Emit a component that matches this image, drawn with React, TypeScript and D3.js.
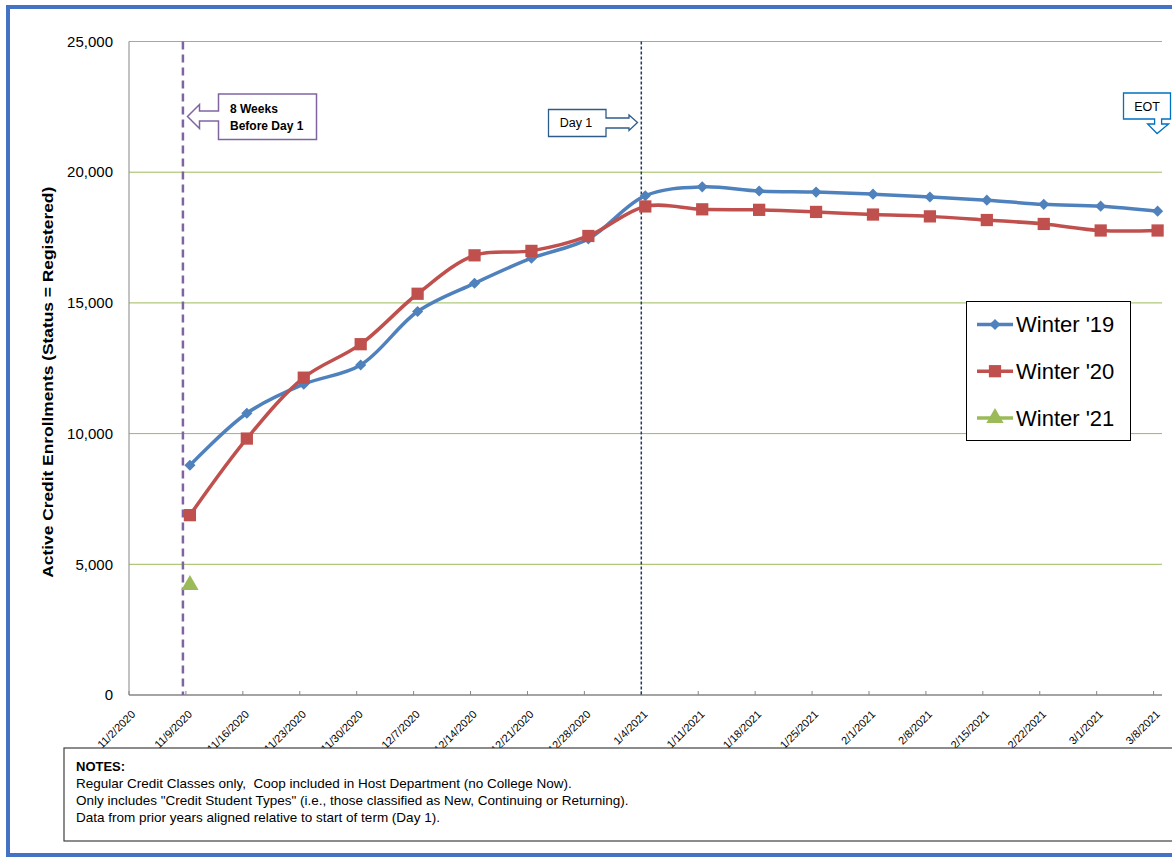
import React from 'react';
import * as d3 from 'd3';

// weekly snapshot dates (x axis categories)
const weeks = [
  '11/2/2020', '11/9/2020', '11/16/2020', '11/23/2020', '11/30/2020', '12/7/2020',
  '12/14/2020', '12/21/2020', '12/28/2020', '1/4/2021', '1/11/2021', '1/18/2021',
  '1/25/2021', '2/1/2021', '2/8/2021', '2/15/2021', '2/22/2021', '3/1/2021', '3/8/2021',
];

const winter19: (number | null)[] = [
  null, 8790, 10780, 11890, 12625, 14670, 15750, 16710, 17450, 19100,
  19440, 19280, 19240, 19160, 19050, 18930, 18770, 18700, 18510,
];
const winter20: (number | null)[] = [
  null, 6880, 9810, 12140, 13420, 15350, 16820, 16990, 17560, 18690,
  18580, 18560, 18480, 18380, 18310, 18170, 18020, 17770, 17770,
];
const winter21: (number | null)[] = [
  null, 4210, null, null, null, null, null, null, null, null,
  null, null, null, null, null, null, null, null, null,
];

const yTicks = [0, 5000, 10000, 15000, 20000, 25000];

const notes = [
  'Regular Credit Classes only,  Coop included in Host Department (no College Now).',
  'Only includes "Credit Student Types" (i.e., those classified as New, Continuing or Returning).',
  'Data from prior years aligned relative to start of term (Day 1).',
];

const W = 1172;
const H = 859;
const FONT = "'Liberation Sans', Arial, sans-serif";

const plot = { left: 129, right: 1162, top: 41.5, bottom: 695 };

export default function App() {
  const x = d3.scalePoint<string>().domain(weeks).range([129, 1153.6]);
  const y = d3.scaleLinear().domain([0, 25000]).range([plot.bottom, plot.top]);
  const markerShift = 4;
  const px = (i: number) => (x(weeks[i]) as number) + markerShift;

  const line = d3
    .line<number | null>()
    .defined((d) => d !== null)
    .x((_, i) => px(i))
    .y((d) => y(d as number))
    .curve(d3.curveCatmullRom.alpha(0.5));

  const diamond = d3.symbol(d3.symbolSquare, 62)();
  const square = d3.symbol(d3.symbolSquare, 150)();
  const triangle = d3.symbol(d3.symbolTriangle, 130)();

  const series = [
    { name: "Winter '19", data: winter19, color: '#4F81BD', marker: diamond, rot: 45 },
    { name: "Winter '20", data: winter20, color: '#C0504D', marker: square, rot: 0 },
    { name: "Winter '21", data: winter21, color: '#9BBB59', marker: triangle, rot: 0 },
  ];

  const day1X = x('1/4/2021') as number;
  const eightWkX = (x('11/9/2020') as number) - 3;
  const lastX = px(weeks.length - 1);

  return (
    <svg
      width={W}
      height={H}
      style={{ position: 'absolute', left: 0, top: 0, background: '#fff' }}
      fontFamily={FONT}
    >
      <rect x={0} y={0} width={W} height={H} fill="#fff" />
      {/* outer blue frame */}
      <rect x={8} y={7} width={W + 20} height={848} fill="none" stroke="#4472C4" strokeWidth={4} />

      {/* gridlines */}
      {yTicks.filter((t) => t > 0).map((t) => (
        <line key={t} x1={plot.left} x2={plot.right} y1={y(t)} y2={y(t)} stroke="#9BBB59" strokeWidth={1} />
      ))}

      {/* y axis */}
      <line x1={plot.left} x2={plot.left} y1={plot.top} y2={plot.bottom} stroke="#868686" strokeWidth={1} />
      {yTicks.map((t) => (
        <text key={t} x={113} y={y(t)} dy="0.35em" textAnchor="end" fontSize={15} fill="#000">
          {d3.format(',')(t)}
        </text>
      ))}
      <text
        transform={`translate(53,${(plot.top + plot.bottom) / 2 + 14}) rotate(-90)`}
        textAnchor="middle"
        fontSize={15.5}
        fontWeight="bold"
        textLength={391}
        lengthAdjust="spacingAndGlyphs"
      >
        Active Credit Enrollments (Status = Registered)
      </text>

      {/* x axis */}
      <line x1={plot.left} x2={plot.right} y1={plot.bottom} y2={plot.bottom} stroke="#868686" strokeWidth={1.5} />
      {weeks.map((w) => (
        <g key={w}>
          <line x1={x(w)} x2={x(w)} y1={plot.bottom} y2={plot.bottom - 4} stroke="#868686" />
          <text
            transform={`translate(${(x(w) as number) + 7},715) rotate(-45)`}
            textAnchor="end"
            fontSize={11}
            fill="#000"
          >
            {w}
          </text>
        </g>
      ))}

      {/* reference lines */}
      <line x1={eightWkX} x2={eightWkX} y1={plot.top} y2={plot.bottom} stroke="#8064A2" strokeWidth={2.5} strokeDasharray="8,5" />
      <line x1={day1X} x2={day1X} y1={plot.top} y2={plot.bottom} stroke="#1F3864" strokeWidth={1.5} strokeDasharray="3,2" />

      {/* series */}
      {series.map((s) => (
        <g key={s.name}>
          <path d={line(s.data) || ''} fill="none" stroke={s.color} strokeWidth={3.5} />
          {s.data.map((v, i) =>
            v === null ? null : (
              <path
                key={i}
                d={s.marker || ''}
                transform={`translate(${px(i)},${y(v)}) rotate(${s.rot})`}
                fill={s.color}
              />
            )
          )}
        </g>
      ))}

      {/* 8 weeks callout */}
      <path
        d={`M218.5,94 H316.5 V139.5 H218.5 V121 H199.5 V128.5 L187.5,116.5 L199.5,104.5 V111 H218.5 Z`}
        fill="#fff"
        stroke="#8064A2"
        strokeWidth={1.5}
      />
      <text x={230} y={113} fontSize={12} fontWeight="bold">8 Weeks</text>
      <text x={230} y={130} fontSize={12} fontWeight="bold">Before Day 1</text>

      {/* Day 1 callout */}
      <path
        d={`M548.5,109.5 H606 V118 H629 V115 L637.5,122.5 L629,130.5 V128 H606 V136.5 H548.5 Z`}
        fill="#fff"
        stroke="#2E5C8A"
        strokeWidth={1.3}
      />
      <text x={576} y={127} fontSize={12.5} textAnchor="middle">Day 1</text>

      {/* EOT callout */}
      <path
        d={`M1123.5,93 H1170.5 V119 H${lastX + 4} V124 H${lastX + 11} L${lastX - 0.5},133.5 L${lastX - 10},124 H${lastX - 3} V119 H1123.5 Z`}
        fill="#fff"
        stroke="#0070C0"
        strokeWidth={1.3}
      />
      <text x={1147} y={111} fontSize={12.5} textAnchor="middle">EOT</text>

      {/* legend */}
      <rect x={966.5} y={301.5} width={164} height={139} fill="#fff" stroke="#000" strokeWidth={1} />
      {series.map((s, i) => {
        const ly = 324.5 + i * 46.7;
        return (
          <g key={s.name}>
            <line x1={977} x2={1013} y1={ly} y2={ly} stroke={s.color} strokeWidth={3.5} />
            <path d={s.marker || ''} transform={`translate(995,${ly}) rotate(${s.rot})`} fill={s.color} />
            <text x={1016} y={ly} dy="0.35em" fontSize={22} fill="#000">
              {s.name}
            </text>
          </g>
        );
      })}

      {/* notes box */}
      <rect x={64} y={748} width={W} height={93} fill="#fff" stroke="#404040" strokeWidth={1.2} />
      <text x={76} y={771} fontSize={13} fontWeight="bold">NOTES:</text>
      {notes.map((n, i) => (
        <text key={i} x={76} y={788 + i * 17} fontSize={13.5} style={{ whiteSpace: 'pre' }}>
          {n}
        </text>
      ))}
    </svg>
  );
}
